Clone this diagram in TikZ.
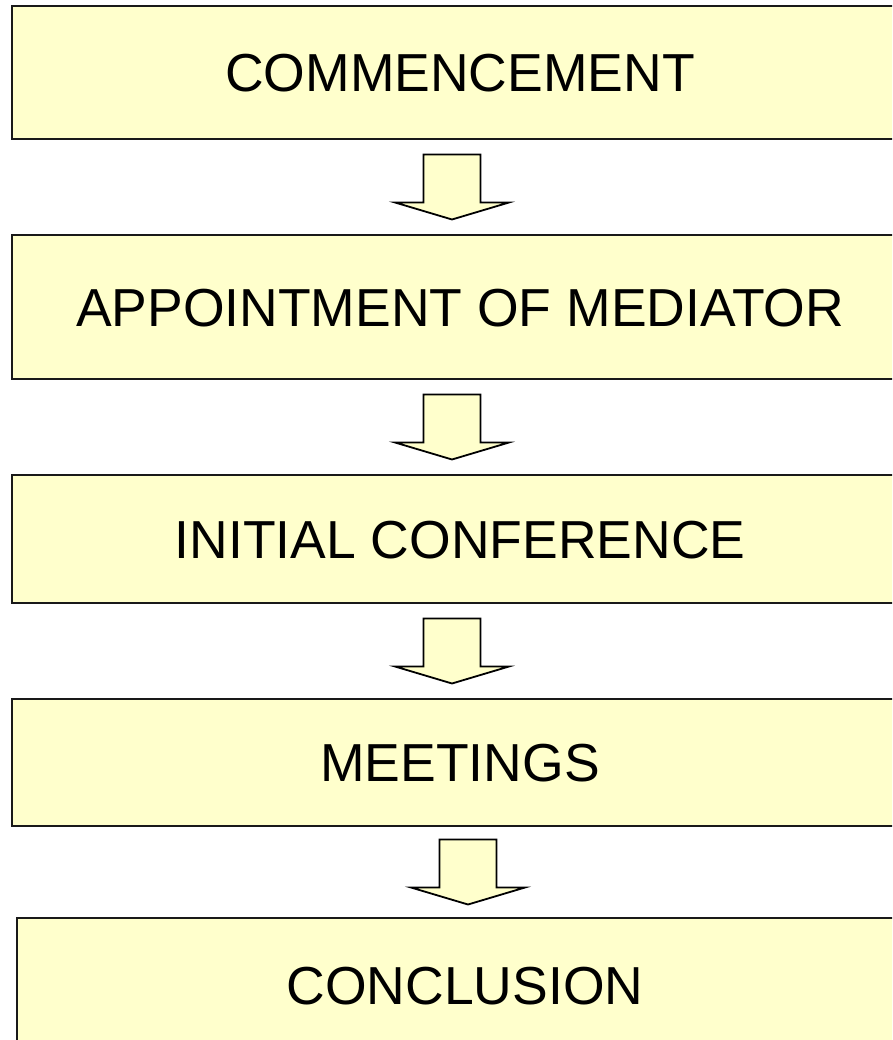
\documentclass[tikz,border=0pt]{standalone}
\usepackage{fontspec}
\setmainfont{Liberation Sans}
\usetikzlibrary{calc}
\definecolor{paleyellow}{HTML}{FFFFCC}
\tikzset{
  stage/.style={draw=black!90, line width=2.5pt, fill=paleyellow, minimum width=896pt,
    inner sep=0pt, text height=38.5pt, text depth=0pt, font=\fontsize{53.5}{60}\selectfont},
  blockarrow/.style={draw=black, line width=1.8pt, fill=paleyellow, line join=miter}
}
% block arrow halfway between two boxes, shifted sideways by #3
\newcommand{\flowarrow}[3]{%
  \draw[blockarrow] ($(#1.south)!0.5!(#2.north)+(#3,0)$) ++(-28.5,-32.5) -- ++(57,0)
    -- ++(0,48) -- ++(28.5,0) -- ++(-57,17) -- ++(-57,-17) -- ++(28.5,0) -- cycle;}

\begin{document}
\begin{tikzpicture}[x=1pt, y=-1pt]
    \clip (0,0) rectangle (892,1040);
    \fill[white] (0,0) rectangle (892,1040);
    \node[stage, minimum height=133pt] (commence) at (460,72.5) {COMMENCEMENT};
    \node[stage, minimum height=144pt] (appoint) at (460,307) {APPOINTMENT OF MEDIATOR};
    \node[stage, minimum height=128pt] (initial) at (460,539) {INITIAL CONFERENCE};
    \node[stage, minimum height=127pt] (meetings) at (460,762.5) {MEETINGS};
    \node[stage, minimum height=134pt] (conclusion) at (465,985) {CONCLUSION};
    \flowarrow{commence}{appoint}{-8}
    \flowarrow{appoint}{initial}{-8}
    \flowarrow{initial}{meetings}{-8}
    \flowarrow{meetings}{conclusion}{5.5}
\end{tikzpicture}
\end{document}
